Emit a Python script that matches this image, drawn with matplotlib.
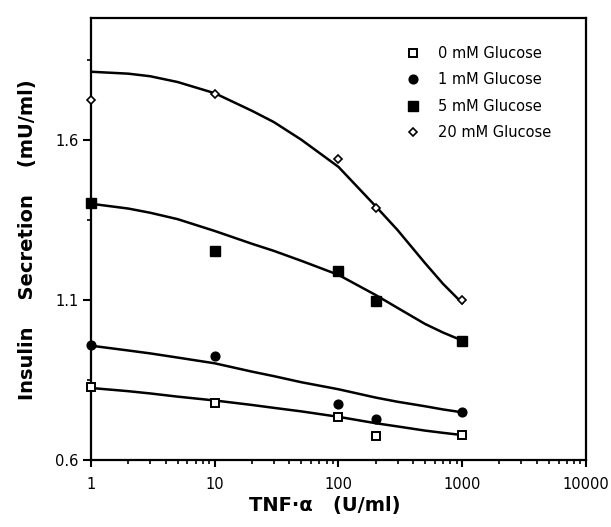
import numpy as np
import matplotlib
matplotlib.use('Agg')
import matplotlib.pyplot as plt
from matplotlib.ticker import FixedLocator, NullFormatter

plt.rcParams['font.family'] = ['DejaVu Sans']

# measured points
tnf = [1, 10, 100, 200, 1000]
g0 = [0.829, 0.777, 0.735, 0.675, 0.678]
g1 = [0.959, 0.926, 0.775, 0.727, 0.749]
g5 = [1.402, 1.254, 1.19, 1.095, 0.973]
g20 = [1.725, 1.741, 1.54, 1.388, 1.10]

# fitted curves
xc = [1, 2, 3, 5, 10, 20, 30, 50, 100, 200, 300, 500, 700, 1000]
c20 = [1.812, 1.806, 1.798, 1.780, 1.745, 1.690, 1.655, 1.600, 1.515, 1.392, 1.318, 1.215, 1.150, 1.090]
c5 = [1.400, 1.385, 1.372, 1.352, 1.315, 1.275, 1.253, 1.222, 1.178, 1.115, 1.075, 1.025, 0.998, 0.973]
c1 = [0.957, 0.942, 0.933, 0.920, 0.902, 0.876, 0.862, 0.843, 0.821, 0.795, 0.782, 0.768, 0.758, 0.749]
c0 = [0.825, 0.815, 0.808, 0.798, 0.786, 0.772, 0.763, 0.752, 0.735, 0.715, 0.705, 0.692, 0.685, 0.678]

labels = ['0 mM Glucose', '1 mM Glucose', '5 mM Glucose', '20 mM Glucose']

fig = plt.figure(figsize=(6.11, 5.27), dpi=100)
ax = fig.add_axes([0.149, 0.127, 0.81, 0.839])

for yc in [c20, c5, c1, c0]:
    ax.plot(xc, yc, color='black', lw=1.8, zorder=2)

ax.plot(tnf, g0, ls='none', marker='s', ms=6, mfc='white', mec='black', mew=1.4,
        label=labels[0], zorder=3, clip_on=False)
ax.plot(tnf, g1, ls='none', marker='o', ms=6.3, mfc='black', mec='black',
        label=labels[1], zorder=3, clip_on=False)
ax.plot(tnf, g5, ls='none', marker='s', ms=7, mfc='black', mec='black',
        label=labels[2], zorder=3, clip_on=False)
ax.plot(tnf, g20, ls='none', marker='D', ms=4.5, mfc='white', mec='black', mew=1.2,
        label=labels[3], zorder=3, clip_on=False)

ax.set_xscale('log')
ax.set_xlim(1, 10000)
ax.set_ylim(0.6, 1.98)
ax.set_xticks([1, 10, 100, 1000, 10000])
ax.set_xticklabels(['1', '10', '100', '1000', '10000'])
ax.xaxis.set_minor_formatter(NullFormatter())
ax.set_yticks([0.6, 1.1, 1.6])
ax.set_yticklabels(['0.6', '1.1', '1.6'])
ax.yaxis.set_minor_locator(FixedLocator([0.85, 1.35, 1.85]))

ax.tick_params(axis='x', which='major', length=5, width=1.5, labelsize=10.5, pad=7)
ax.tick_params(axis='y', which='major', length=6, width=1.5, labelsize=10.5, pad=3)
ax.tick_params(which='minor', length=3, width=1.2)
for s in ax.spines.values():
    s.set_linewidth(1.6)

ax.legend(loc='upper left', bbox_to_anchor=(405.7 / 611, 1 - 46 / 527),
          bbox_transform=fig.transFigure, frameon=False, borderpad=0, borderaxespad=0,
          fontsize=10.5, handletextpad=1.2, labelspacing=0.78, handlelength=1.0)

fig.text(325 / 611, 1 - 505 / 527, 'TNF\u00b7\u03b1   (U/ml)', ha='center', va='center',
         fontsize=14, fontweight='bold')
fig.text(28 / 611, 1 - 240 / 527, 'Insulin    Secretion    (mU/ml)', ha='center', va='center',
         rotation=90, fontsize=14, fontweight='bold')

fig.savefig('out.png', dpi=100)
